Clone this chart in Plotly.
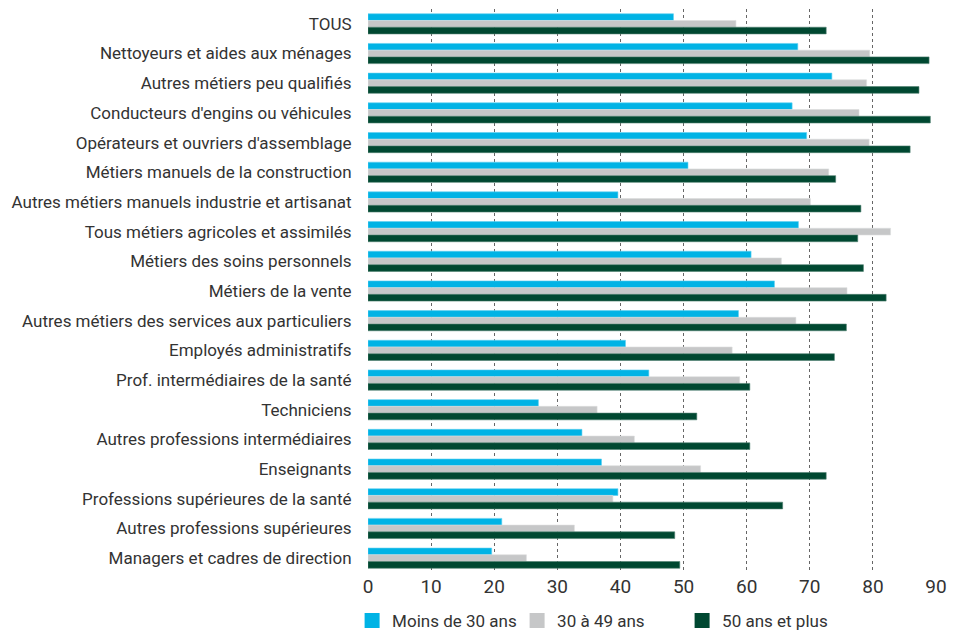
import plotly.graph_objects as go

categories = [
    "TOUS",
    "Nettoyeurs et aides aux ménages",
    "Autres métiers peu qualifiés",
    "Conducteurs d'engins ou véhicules",
    "Opérateurs et ouvriers d'assemblage",
    "Métiers manuels de la construction",
    "Autres métiers manuels industrie et artisanat",
    "Tous métiers agricoles et assimilés",
    "Métiers des soins personnels",
    "Métiers de la vente",
    "Autres métiers des services aux particuliers",
    "Employés administratifs",
    "Prof. intermédiaires de la santé",
    "Techniciens",
    "Autres professions intermédiaires",
    "Enseignants",
    "Professions supérieures de la santé",
    "Autres professions supérieures",
    "Managers et cadres de direction",
]

moins_30 = [48.4, 68.1, 73.5, 67.2, 69.5, 50.7, 39.6, 68.2, 60.7, 64.4,
            58.7, 40.8, 44.5, 27.0, 33.9, 37.0, 39.6, 21.2, 19.6]
de_30_49 = [58.3, 79.5, 79.0, 77.8, 79.4, 73.0, 70.1, 82.8, 65.5, 75.9,
            67.8, 57.7, 58.9, 36.3, 42.2, 52.7, 38.8, 32.7, 25.1]
plus_50 = [72.6, 88.9, 87.3, 89.1, 85.9, 74.1, 78.1, 77.6, 78.5, 82.1,
           75.8, 73.9, 60.5, 52.1, 60.5, 72.6, 65.7, 48.6, 49.4]

series_names = ["Moins de 30 ans", "30 à 49 ans", "50 ans et plus"]
colors = ["#00b3e5", "#c6c7c8", "#004831"]
edge = ["#5fd0f0", "#dcdddd", "#4f8070"]
tick_vals = [0, 10, 20, 30, 40, 50, 60, 70, 80, 90]

fig = go.Figure()
for name, vals, c, e in zip(series_names, [moins_30, de_30_49, plus_50], colors, edge):
    fig.add_trace(go.Bar(
        y=categories, x=vals, name=name, orientation="h",
        marker=dict(color=c, line=dict(color=e, width=0.6)),
        showlegend=False, legendgroup=name,
    ))
# legend-only entries with larger square swatches
for name, c in zip(series_names, colors):
    fig.add_trace(go.Scatter(
        x=[None], y=[None], mode="markers", name=name, legendgroup=name,
        marker=dict(symbol="square", size=15, color=c),
        showlegend=True,
    ))

FONT = "Roboto, Open Sans, sans-serif"
fig.update_layout(
    width=953, height=631,
    margin=dict(l=368, r=17, t=9, b=58, autoexpand=False),
    paper_bgcolor="white", plot_bgcolor="white",
    barmode="group", bargap=0.32, bargroupgap=0,
    font=dict(family=FONT, size=17, color="#333333"),
    legend=dict(
        orientation="h", x=-0.028, xanchor="left", y=-0.085, yanchor="middle",
        entrywidth=120, entrywidthmode="pixels",
        font=dict(size=17, color="#333333"),
        traceorder="normal", itemsizing="trace",
    ),
    showlegend=True,
)
fig.update_xaxes(
    range=[0, 90], tickvals=tick_vals, ticktext=[str(v) for v in tick_vals],
    showgrid=True, gridcolor="#666666", griddash="dot", gridwidth=1,
    zeroline=False, showline=False, ticks="",
    tickfont=dict(size=19), automargin=False,
)
fig.update_yaxes(
    autorange="reversed", showgrid=False, zeroline=False, showline=False,
    ticks="outside", ticklen=12, tickcolor="rgba(0,0,0,0)",
    tickfont=dict(size=17), automargin=False,
)

fig.write_html(
    "out.html",
    config={"displayModeBar": False},
    post_script="document.body.style.margin='0';document.body.style.overflow='hidden';",
)
